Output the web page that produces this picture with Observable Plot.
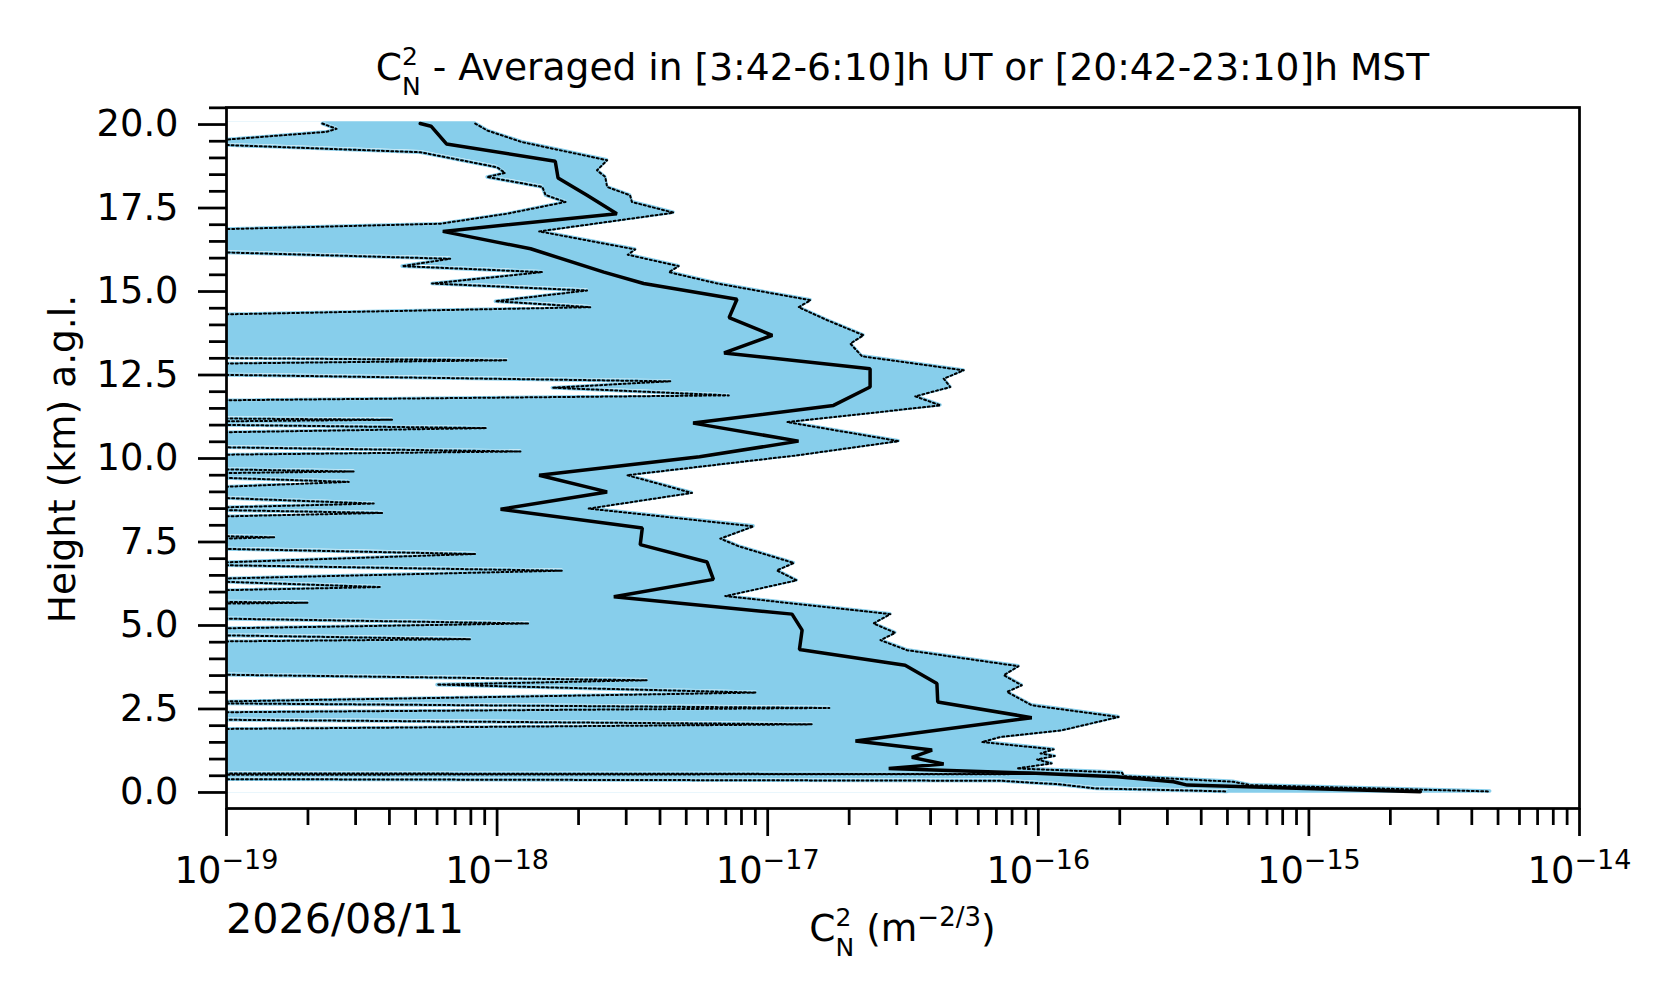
<!DOCTYPE html>
<html>
<head>
<meta charset="utf-8">
<script src="https://cdn.jsdelivr.net/npm/d3@7"></script>
<script src="https://cdn.jsdelivr.net/npm/@observablehq/plot@0.6"></script>
<style>
  html, body { margin: 0; padding: 0; background: #ffffff; }
  #chart svg { display: block; }
</style>
</head>
<body>
<div id="chart"></div>
<script>
// ---------- data ----------
// lower-bound samples that fall off the left of the log axis (below 1e-19)
const OFF = 9e-20;

// mean Cn2 profile
const meanHeights = [20.03,19.95,19.42,18.90,18.40,17.88,17.33,16.80,16.28,15.58,15.24,14.77,14.22,13.69,13.16,12.69,12.14,11.59,11.06,10.52,10.05,9.50,9.00,8.48,7.92,7.42,6.90,6.38,5.86,5.34,4.86,4.28,3.81,3.26,2.71,2.24,1.54,1.27,1.05,0.85,0.72,0.58,0.47,0.32,0.22,0.02];
const meanValues = [5.2e-19,5.7e-19,6.5e-19,1.64e-18,1.68e-18,2.15e-18,2.77e-18,6.3e-19,1.33e-18,2.48e-18,3.48e-18,7.7e-18,7.2e-18,1.04e-17,6.9e-18,2.39e-17,2.39e-17,1.75e-17,5.3e-18,1.30e-17,5.6e-18,1.43e-18,2.55e-18,1.03e-18,3.44e-18,3.38e-18,5.97e-18,6.3e-18,2.70e-18,1.23e-17,1.34e-17,1.31e-17,3.22e-17,4.22e-17,4.25e-17,9.46e-17,2.11e-17,4.05e-17,3.41e-17,4.47e-17,2.80e-17,9.3e-17,1.95e-16,3.16e-16,3.55e-16,2.58e-15];

// upper edge of the spread (dotted)
const upperHeights = [20.03,19.82,19.47,18.93,18.63,18.43,18.13,17.88,17.68,17.36,16.80,16.26,16.10,15.76,15.58,15.24,14.74,14.53,14.14,13.69,13.44,13.06,12.64,12.39,12.14,11.86,11.59,11.09,10.52,10.10,9.50,8.97,8.50,7.97,7.60,7.37,6.87,6.65,6.35,5.88,5.34,5.06,4.78,4.56,4.26,3.78,3.51,3.21,3.01,2.61,2.26,1.86,1.66,1.51,1.29,1.17,1.09,0.99,0.87,0.72,0.59,0.49,0.32,0.22,0.03];
const upperValues = [8.3e-19,9.2e-19,1.24e-18,2.55e-18,2.34e-18,2.51e-18,2.55e-18,3.10e-18,3.15e-18,4.49e-18,1.43e-18,3.24e-18,3.04e-18,4.69e-18,4.31e-18,6.5e-18,1.44e-17,1.30e-17,1.66e-17,2.26e-17,2.02e-17,2.23e-17,5.30e-17,4.47e-17,4.73e-17,3.51e-17,4.35e-17,1.18e-17,3.05e-17,1.30e-17,3.02e-18,5.25e-18,2.18e-18,8.87e-18,6.68e-18,7.82e-18,1.25e-17,1.08e-17,1.28e-17,6.97e-18,2.84e-17,2.46e-17,2.96e-17,2.61e-17,3.27e-17,8.45e-17,7.45e-17,8.69e-17,7.66e-17,9.46e-17,1.98e-16,1.22e-16,7.23e-17,6.19e-17,1.14e-16,1.02e-16,1.15e-16,9.9e-17,1.12e-16,8.34e-17,2.04e-16,2.07e-16,5.25e-16,6.07e-16,4.68e-15];

// lower edge of the spread (dotted)
const lowerHeights = [20.03,19.87,19.78,19.52,19.40,19.17,18.72,18.55,18.43,18.13,17.89,17.68,17.33,17.03,16.86,16.18,15.98,15.76,15.58,15.24,15.03,14.71,14.53,14.31,13.01,12.94,12.84,12.51,12.31,12.12,11.89,11.74,11.20,11.16,11.11,11.01,10.91,10.78,10.34,10.21,10.11,9.68,9.61,9.56,9.43,9.30,9.14,8.83,8.65,8.53,8.46,8.37,8.26,7.68,7.64,7.59,7.30,7.14,6.88,6.81,6.64,6.40,6.32,6.15,6.05,5.71,5.68,5.65,5.21,5.06,4.91,4.71,4.59,4.52,3.53,3.36,3.23,2.99,2.72,2.67,2.53,2.40,2.18,2.04,1.90,0.57,0.55,0.53,0.40,0.35,0.29,0.25,0.12,0.05,0.03];
const lowerValues = [2.26e-19,2.55e-19,2.34e-19,OFF,OFF,5.21e-19,1.0e-18,1.07e-18,9.19e-19,1.47e-18,1.51e-18,1.79e-18,1.09e-18,6.18e-19,OFF,OFF,6.71e-19,4.46e-19,1.47e-18,5.75e-19,2.15e-18,9.86e-19,2.21e-18,OFF,OFF,1.09e-18,OFF,OFF,4.37e-18,1.60e-18,7.18e-18,OFF,OFF,4.09e-19,OFF,OFF,9.12e-19,OFF,OFF,1.22e-18,OFF,OFF,2.95e-19,OFF,OFF,2.83e-19,OFF,OFF,3.50e-19,OFF,OFF,3.76e-19,OFF,OFF,1.50e-19,OFF,OFF,8.29e-19,OFF,OFF,1.74e-18,OFF,OFF,3.72e-19,OFF,OFF,2.0e-19,OFF,OFF,1.31e-18,OFF,OFF,7.96e-19,OFF,OFF,3.57e-18,6.0e-19,9.06e-18,OFF,OFF,1.69e-17,OFF,OFF,1.46e-17,OFF,OFF,1.0e-16,OFF,OFF,7.29e-17,9.57e-17,1.17e-16,1.64e-16,3.96e-16,4.98e-16];

// axes
const xMajorTicks = [1e-19, 1e-18, 1e-17, 1e-16, 1e-15, 1e-14];
const xMinorMultipliers = [2, 3, 4, 5, 6, 7, 8, 9];
const yMajorTicks = [0, 2.5, 5, 7.5, 10, 12.5, 15, 17.5, 20];
const yMinorTicks = [0.5,1,1.5,2,3,3.5,4,4.5,5.5,6,6.5,7,8,8.5,9,9.5,10.5,11,11.5,12,13,13.5,14,14.5,15.5,16,16.5,17,18,18.5,19,19.5,20.5];
const xDomain = [1e-19, 1e-14];
const yDomain = [-0.48, 20.51];

const titleMain = " - Averaged in [3:42-6:10]h UT or [20:42-23:10]h MST";
const yLabelText = "Height (km) a.g.l.";
const dateText = "2026/08/11";

// ---------- build ----------
const meanRows = meanHeights.map((h, i) => ({h, v: meanValues[i]}));
const upperRows = upperHeights.map((h, i) => ({h, v: upperValues[i]}));
const lowerRows = lowerHeights.map((h, i) => ({h, v: lowerValues[i]}));
const xMinorTicks = xMajorTicks.slice(0, -1).flatMap(d => xMinorMultipliers.map(m => m * d));

const SKY = "#87CEEB";
const FONT = "DejaVu Sans";
const LEFT = 1e-21;
const AX = 2.75;
const TICKFONT = 36.8;
const DOT = {stroke: "black", strokeWidth: 2.0, strokeDasharray: "2,2.7", clip: true};

const chart = Plot.plot({
  width: 1676,
  height: 1003,
  marginLeft: 226,
  marginRight: 97,
  marginTop: 107,
  marginBottom: 195,
  style: {fontFamily: FONT, fontSize: TICKFONT + "px", color: "black", background: "white", overflow: "visible"},
  x: {type: "log", domain: xDomain, axis: null},
  y: {type: "linear", domain: yDomain, axis: null},
  marks: [
    Plot.areaX(upperRows, {y: "h", x1: () => LEFT, x2: "v", fill: SKY, stroke: SKY, strokeWidth: 3.4, clip: true}),
    Plot.areaX(lowerRows, {y: "h", x1: () => LEFT, x2: "v", fill: "white", stroke: "white", strokeWidth: 3.4, clip: true}),
    Plot.line(lowerRows, {x: "v", y: "h", stroke: SKY, strokeWidth: 3.6, clip: true}),
    Plot.line(upperRows, {x: "v", y: "h", ...DOT}),
    Plot.line(lowerRows, {x: "v", y: "h", ...DOT}),
    Plot.line(meanRows, {x: "v", y: "h", stroke: "black", strokeWidth: 3.5, strokeLinejoin: "miter", clip: true}),
    Plot.frame({stroke: "black", strokeWidth: AX}),
    Plot.axisY(yMajorTicks, {tickSize: 28, tickPadding: 20, strokeWidth: AX, fontSize: TICKFONT, tickFormat: d3.format(".1f"), label: null}),
    Plot.axisY(yMinorTicks, {tickSize: 17, strokeWidth: AX, tickFormat: () => "", label: null}),
    Plot.axisX(xMajorTicks, {tickSize: 28, tickPadding: 20, strokeWidth: AX, fontSize: TICKFONT, tickFormat: d => "10|" + Math.round(Math.log10(d)), label: null}),
    Plot.axisX(xMinorTicks, {tickSize: 17, strokeWidth: AX, tickFormat: () => "", label: null})
  ]
});

document.getElementById("chart").appendChild(chart);

// ---------- text with sub/superscripts ----------
const svg = d3.select(chart);
svg.selectAll('g[aria-label="x-axis tick label"] text').each(function () {
  const s = this.textContent;
  if (!s.includes("|")) return;
  const [base, ex] = s.split("|");
  const el = d3.select(this);
  el.text(base);
  el.append("tspan").attr("font-size", 27).attr("dy", -14).text("\u2212" + String(Math.abs(+ex)));
});

function addText(x, y, size, anchor) {
  return svg.append("text")
    .attr("x", x).attr("y", y)
    .attr("font-family", FONT).attr("font-size", size)
    .attr("text-anchor", anchor).attr("fill", "black")
    .style("white-space", "pre");
}

// title
const cx = (226 + 1579) / 2;
const t = addText(cx, 80, 37.6, "middle");
t.append("tspan").text("C");
t.append("tspan").attr("font-size", 25).attr("dy", -15.5).text("2");
t.append("tspan").attr("font-size", 25).attr("dx", -15.9).attr("dy", 30).text("N");
t.append("tspan").attr("dy", -14.5).text(titleMain);

// x label
const xl = addText(cx, 941, 37.5, "middle");
xl.append("tspan").text("C");
xl.append("tspan").attr("font-size", 25).attr("dy", -15.5).text("2");
xl.append("tspan").attr("font-size", 25).attr("dx", -15.9).attr("dy", 30).text("N");
xl.append("tspan").attr("dy", -14.5).text(" (m");
xl.append("tspan").attr("font-size", 26).attr("dy", -15).text("\u22122/3");
xl.append("tspan").attr("dy", 15).text(")");

// y label
svg.append("text")
  .attr("transform", "translate(75,459) rotate(-90)")
  .attr("font-family", FONT).attr("font-size", 37.5)
  .attr("text-anchor", "middle").attr("fill", "black")
  .text(yLabelText);

// date
addText(226, 933, 41.3, "start").text(dateText);
</script>
</body>
</html>
